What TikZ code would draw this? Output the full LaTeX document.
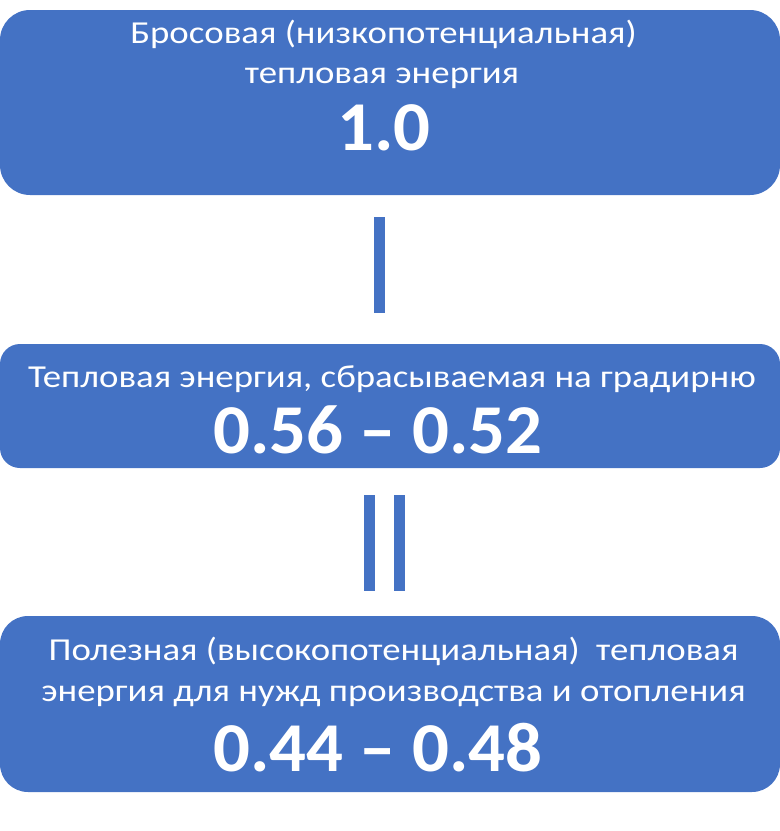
\documentclass[tikz,border=0pt]{standalone}
\usepackage{fontspec}
\setmainfont{Carlito}
\newfontfamily\boxFont[FakeStretch=1.15]{Carlito}
\newfontfamily\numFont[FakeStretch=1.04]{Carlito}
\usepackage{tikz}

\definecolor{boxBlue}{HTML}{4472C4}

\begin{document}
\begin{tikzpicture}[x=1pt, y=-1pt, inner sep=0pt]
            \useasboundingbox (0,0) rectangle (780,831);

            \tikzstyle{myBox}=[fill=boxBlue, minimum width=780pt];
            \tikzstyle{myTxt}=[text=white, anchor=base, font=\boxFont\fontsize{32}{38}\selectfont];
            \tikzstyle{myNum}=[text=white, anchor=base, font=\numFont\fontsize{70}{80}\selectfont\bfseries];
            \tikzstyle{myBar}=[draw=boxBlue, line width=11pt];

            \node[myBox, rounded corners=30pt, minimum height=185pt] (1) at (390,102.5) {};
            \node[myBox, rounded corners=20pt, minimum height=124pt] (2) at (390,406) {};
            \node[myBox, rounded corners=28pt, minimum height=176pt] (3) at (390,704) {};

            \node[myTxt] (1a) at (383.5,43) {Бросовая (низкопотенциальная)};
            \node[myTxt] (1b) at (382,83) {тепловая энергия};
            \node[myNum] (1n) at (384,150) {1.0};

            \node[myTxt] (2a) at (392,387) {Тепловая энергия, сбрасываемая на градирню};
            \node[myNum] (2n) at (378,453) {0.56 – 0.52};

            \node[myTxt] (3a) at (393.5,660) {Полезная (высокопотенциальная)\hspace{0.25em} тепловая};
            \node[myTxt] (3b) at (393.5,701) {энергия для нужд производства и отопления};
            \node[myNum] (3n) at (378,771) {0.44 – 0.48};

            \draw[myBar] ([xshift=-10.5pt, yshift=-22pt]1.south) -- ([xshift=-10.5pt, yshift=31pt]2.north);
            \draw[myBar] ([xshift=-20.5pt, yshift=-27pt]2.south) -- ([xshift=-20.5pt, yshift=25pt]3.north);
            \draw[myBar] ([xshift=9.5pt, yshift=-27pt]2.south) -- ([xshift=9.5pt, yshift=25pt]3.north);
         \end{tikzpicture}
\end{document}
